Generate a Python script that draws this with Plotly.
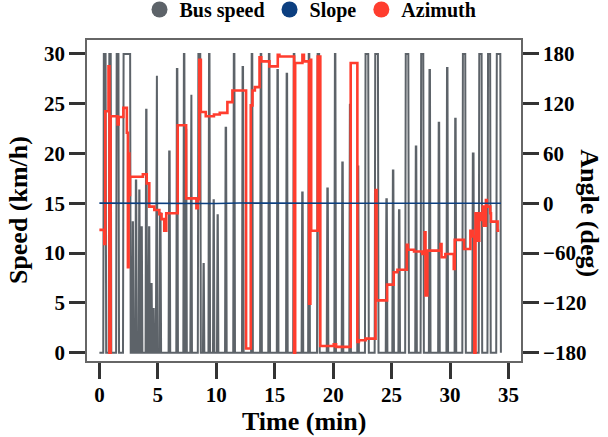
import plotly.graph_objects as go

# ---------------- data ----------------
# Bus speed: each trip segment is a pulse (start min, end min, peak km/h)
speed_start = [0.33, 0.80, 1.43, 2.02, 2.80, 3.07, 3.36, 3.56, 3.95, 4.20, 4.40, 4.60, 4.83, 5.14,
               5.92, 6.58, 7.18, 7.38, 7.78, 8.42, 8.86, 9.33, 9.72, 10.06, 10.75, 11.45, 12.20,
               12.98, 13.75, 14.45, 15.18, 15.97, 16.58, 17.30, 17.86, 18.62, 19.45, 20.10, 20.73,
               21.38, 22.06, 22.72, 23.55, 24.50, 25.06, 25.58, 26.16, 27.02, 27.48, 28.19, 28.98,
               29.69, 30.39, 31.05, 31.90, 32.45, 33.20, 33.95]
speed_end = [0.58, 1.02, 1.68, 2.68, 2.92, 3.20, 3.48, 3.68, 4.08, 4.32, 4.52, 4.70, 4.97, 5.28,
             6.06, 6.72, 7.32, 7.48, 7.92, 8.68, 8.98, 9.47, 9.84, 10.18, 10.89, 11.60, 12.34,
             13.13, 13.90, 14.60, 15.32, 16.11, 16.73, 17.44, 18.01, 18.85, 19.59, 20.24, 20.87,
             21.52, 22.20, 23.05, 23.88, 24.64, 25.20, 25.72, 26.48, 27.16, 27.76, 28.33, 29.12,
             29.83, 30.53, 31.35, 32.06, 32.75, 33.48, 34.35]
speed_peak = [30, 30, 30, 30, 13.1, 17.3, 16.3, 12.6, 24.4, 12.6, 6.9, 4.5, 27.8, 14.0,
              20.2, 28.5, 30, 22.5, 25.9, 30, 8.9, 30, 15.3, 13.8, 22.6, 30, 28.7,
              30, 30, 30, 28.4, 28.0, 30, 16.1, 30, 30, 16.5, 30, 19.1,
              24.9, 18.7, 30, 30, 15.4, 18.3, 14.3, 30, 20.7, 30, 28.4, 23.1,
              28.6, 23.5, 30, 20.0, 30, 30, 30]
speed_t0 = 0.0

# Slope (deg)
slope_t = [0, 2, 4, 6, 8, 10, 12, 14, 16, 18, 20, 22, 24, 26, 28, 30, 32, 34.35]
slope_deg = [0.2, 0.1, -0.3, 0.2, 0.0, -0.2, 0.3, 0.1, -0.1, 0.2, -0.3, 0.1, 0.0, 0.2, -0.1, 0.1, 0.0, 0.1]

# Azimuth (deg), step series
az_t = [0.00, 0.42, 0.50, 0.78, 0.86, 0.96, 1.55, 1.65, 2.05, 2.35, 2.44, 2.50, 2.56, 2.62,
        3.72, 4.05, 4.27, 4.70, 5.13, 5.32, 5.55, 5.72, 6.70, 7.42, 8.30, 8.42, 8.55, 8.68,
        9.10, 9.80, 10.30, 10.95, 11.38, 12.55, 12.95, 13.10, 13.30, 13.70, 13.85, 14.55,
        15.26, 15.40, 16.66, 16.75, 17.37, 17.50, 17.94, 18.05, 18.12, 18.68, 18.90, 20.05,
        20.25, 21.50, 22.07, 22.20, 22.78, 23.63, 23.71, 24.61, 25.18, 25.50, 26.30, 26.40,
        26.92, 27.63, 27.83, 27.90, 28.06, 29.19, 29.27, 29.60, 30.32, 30.40, 31.20, 31.74,
        31.94, 32.08, 32.18, 32.30, 32.50, 32.65, 32.79, 32.87, 33.07, 33.15, 33.44, 33.50,
        34.07, 34.21]
az_deg = [-32, -49, 111, 165, -180, 105, 95, 104, 115, 85, -77, 60, 10, 32,
          35, 24, -4, -8, -13, -19, -33, -12, 94, 6, -6, 5, 173, 110,
          105, 107, 109, 122, 136, -175, 118, 136, 140, 176, 171, 165,
          179, 177, -180, 169, 179, 171, -121, 173, -33, 177, -172, -170,
          -173, 169, -167, -165, -163, 16, -117, -98, -83, -80, -50, -56,
          -58, -61, -35, -111, -57, -49, -65, -61, -79, -44, -55, -33,
          -40, -180, -12, -45, -12, -20, -4, -27, 4, -4, -12, -22,
          -33, -33]

# ---------------- build speed polyline from pulses ----------------
sp_x = [speed_t0]
sp_y = [0]
for s, e, p in zip(speed_start, speed_end, speed_peak):
    r = min(0.05, (e - s) / 2)
    sp_x += [s, s + r, e - r, e]
    sp_y += [0, p, p, 0]

GRAY = "#5d6369"
BLUE = "#0c3f80"
RED = "#ff3d2e"
FONT = "Liberation Serif"

fig = go.Figure()
fig.add_trace(go.Scatter(x=sp_x, y=sp_y, mode="lines", line=dict(color=GRAY, width=2),
                         showlegend=False, yaxis="y"))
fig.add_trace(go.Scatter(x=az_t, y=az_deg, mode="lines", line=dict(color=RED, width=2.6, shape="hv"),
                         showlegend=False, yaxis="y2"))
fig.add_trace(go.Scatter(x=slope_t, y=slope_deg, mode="lines", line=dict(color=BLUE, width=1.6),
                         showlegend=False, yaxis="y2"))
# legend entries (circles)
for name, col in [("Bus speed", GRAY), ("Slope", BLUE), ("Azimuth", RED)]:
    fig.add_trace(go.Scatter(x=[None], y=[None], mode="markers", name=name,
                             marker=dict(color=col, size=18, symbol="circle")))

tickfont = dict(family=FONT, size=21, color="black", weight="bold")
common = dict(showgrid=False, zeroline=False, showline=True, linecolor="#666666", linewidth=1.5,
              ticks="outside", ticklen=16, tickwidth=3, tickcolor="#333333", tickfont=tickfont,
              automargin=False)

title_font = dict(family=FONT, size=26, color="black", weight="bold")

fig.update_layout(
    width=608, height=437,
    margin=dict(l=87, r=87, t=40, b=76, autoexpand=False),
    paper_bgcolor="white", plot_bgcolor="white",
    xaxis=dict(range=[-1.06, 36.07], tickvals=[0, 5, 10, 15, 20, 25, 30, 35], mirror=True,
               ticklabelstandoff=-2, **common),
    yaxis=dict(range=[-0.83, 31.4], tickvals=[0, 5, 10, 15, 20, 25, 30], mirror=True, **common),
    yaxis2=dict(range=[-190.0, 196.8], tickvals=[-180, -120, -60, 0, 60, 120, 180],
                overlaying="y", side="right", **common),
    legend=dict(orientation="h", x=0.515, xanchor="center", y=1.095, yanchor="middle",
                font=dict(family=FONT, size=20, color="black", weight="bold"),
                itemsizing="trace", bgcolor="rgba(0,0,0,0)", itemwidth=30, tracegroupgap=0),
    annotations=[
        dict(text="Speed (km/h)", xref="paper", yref="paper", x=-0.159, y=0.47,
             xanchor="center", yanchor="middle", showarrow=False, textangle=-90, font=title_font),
        dict(text="Angle (deg)", xref="paper", yref="paper", x=1.159, y=0.46,
             xanchor="center", yanchor="middle", showarrow=False, textangle=90, font=title_font),
        dict(text="Time (min)", xref="paper", yref="paper", x=0.5, y=-0.19,
             xanchor="center", yanchor="middle", showarrow=False, font=title_font),
    ],
)

fig.write_html("out.html")
